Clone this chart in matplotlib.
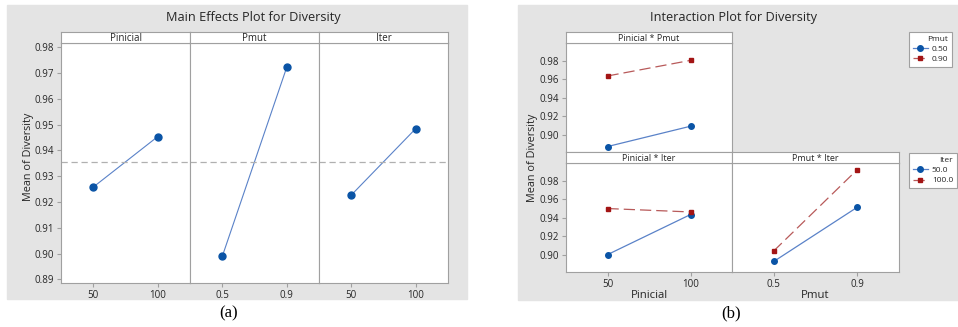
import matplotlib
matplotlib.use("Agg")
import matplotlib.pyplot as plt
from matplotlib.patches import Rectangle

plt.rcParams['font.family'] = ['Open Sans', 'DejaVu Sans']

# data
pinicial_levels = ["50", "100"]
pmut_levels = ["0.5", "0.9"]
iter_levels = ["50", "100"]

main_pinicial = [0.9258, 0.9454]
main_pmut = [0.8989, 0.9723]
main_iter = [0.9227, 0.9485]
grand_mean = 0.9357

pin_pmut_050 = [0.8874, 0.9094]
pin_pmut_090 = [0.9638, 0.9807]
pin_iter_50 = [0.9003, 0.9437]
pin_iter_100 = [0.9502, 0.9465]
pmut_iter_50 = [0.8929, 0.9516]
pmut_iter_100 = [0.9043, 0.9923]

W, H = 958, 327
BG = '#e4e4e4'
EDGE = '#a0a0a0'
TXT = '#262626'
BLUE = '#0a54a6'
BLUE_L = '#5a82c8'
RED = '#a31414'
RED_L = '#b85a5a'

fig = plt.figure(figsize=(W / 100, H / 100), dpi=100)


def box(x0, y0, x1, y1):
    # pixel box -> figure rect
    return [x0 / W, 1 - y1 / H, (x1 - x0) / W, (y1 - y0) / H]


def style_ax(ax):
    for s in ax.spines.values():
        s.set_color(EDGE)
        s.set_linewidth(0.8)
    ax.tick_params(colors=EDGE, labelcolor=TXT, labelsize=7, length=3, width=0.8, pad=2)


def strip(x0, y0, x1, y1, text, size):
    sa = fig.add_axes(box(x0, y0, x1, y1))
    sa.set_xticks([])
    sa.set_yticks([])
    style_ax(sa)
    sa.text(0.5, 0.45, text, ha='center', va='center', fontsize=size, color=TXT,
            transform=sa.transAxes)


# gray backgrounds
fig.patches.append(Rectangle((7 / W, 1 - 299 / H), 460 / W, 294 / H,
                             transform=fig.transFigure, color=BG, zorder=-5))
fig.patches.append(Rectangle((518 / W, 1 - 300 / H), 440 / W, 295 / H,
                             transform=fig.transFigure, color=BG, zorder=-5))

# ---- (a) main effects ----
fig.text(253 / W, 1 - 17 / H, 'Main Effects Plot for Diversity', ha='center', va='center',
         fontsize=9.2, color=TXT)
main_sets = [("Pinicial", pinicial_levels, main_pinicial),
             ("Pmut", pmut_levels, main_pmut),
             ("Iter", iter_levels, main_iter)]
xs = [61, 190, 319, 448]
for i, (name, lev, vals) in enumerate(main_sets):
    ax = fig.add_axes(box(xs[i], 43, xs[i + 1], 283))
    ax.plot(range(len(lev)), vals, color=BLUE_L, lw=0.8, marker='o', ms=5,
            mfc=BLUE, mec=BLUE)
    ax.axhline(grand_mean, color='#b0b0b0', lw=0.9, ls=(0, (5, 3)))
    ax.set_xlim(-0.5, 1.5)
    ax.set_ylim(0.8886, 0.9817)
    ax.set_xticks(range(len(lev)))
    ax.set_xticklabels(lev)
    style_ax(ax)
    if i == 0:
        ax.set_yticks([0.89, 0.90, 0.91, 0.92, 0.93, 0.94, 0.95, 0.96, 0.97, 0.98])
        ax.set_yticklabels(['%.2f' % v for v in ax.get_yticks()])
    else:
        ax.tick_params(axis='y', left=False, labelleft=False)
    strip(xs[i], 32, xs[i + 1], 43, name, 7)
fig.text(29 / W, 1 - 157 / H, 'Mean of Diversity', rotation=90, ha='center', va='center',
         fontsize=7.8, color=TXT)
fig.text(229 / W, 1 - 313 / H, '(a)', ha='center', va='center', fontsize=12,
         family='Liberation Serif', color='black')

# ---- (b) interaction ----
fig.text(733 / W, 1 - 18 / H, 'Interaction Plot for Diversity', ha='center', va='center',
         fontsize=9.2, color=TXT)
yl = (0.8815, 0.9995)
yt = [0.90, 0.92, 0.94, 0.96, 0.98]
panels = [
    (566, 43, 732, 152, 'Pinicial * Pmut', pinicial_levels, pin_pmut_050, pin_pmut_090, True, False),
    (566, 163, 732, 272, 'Pinicial * Iter', pinicial_levels, pin_iter_50, pin_iter_100, True, True),
    (732, 163, 899, 272, 'Pmut * Iter', pmut_levels, pmut_iter_50, pmut_iter_100, False, True),
]
lines = {}
for x0, y0, x1, y1, name, lev, lo, hi, left, bottom in panels:
    ax = fig.add_axes(box(x0, y0, x1, y1))
    l1, = ax.plot(range(len(lev)), lo, color=BLUE_L, lw=0.9, marker='o', ms=4,
                  mfc=BLUE, mec=BLUE)
    l2, = ax.plot(range(len(lev)), hi, color=RED_L, lw=0.9, ls=(0, (9, 4)), marker='s',
                  ms=3.5, mfc=RED, mec=RED)
    lines[name] = (l1, l2)
    ax.set_xlim(-0.5, 1.5)
    ax.set_ylim(*yl)
    ax.set_xticks(range(len(lev)))
    ax.set_xticklabels(lev)
    ax.set_yticks(yt)
    ax.set_yticklabels(['%.2f' % v for v in yt])
    style_ax(ax)
    if not left:
        ax.tick_params(axis='y', left=False, labelleft=False)
    if not bottom:
        ax.tick_params(axis='x', bottom=False, labelbottom=False)
    strip(x0, y0 - 11, x1, y0, name, 6.5)

fig.text(649 / W, 1 - 296 / H, 'Pinicial', ha='center', va='center', fontsize=8.2, color=TXT)
fig.text(815 / W, 1 - 296 / H, 'Pmut', ha='center', va='center', fontsize=8.2, color=TXT)
fig.text(533 / W, 1 - 158 / H, 'Mean of Diversity', rotation=90, ha='center', va='center',
         fontsize=7.8, color=TXT)
fig.text(731 / W, 1 - 313 / H, '(b)', ha='center', va='center', fontsize=12,
         family='Liberation Serif', color='black')

for key, title, labs, ytop in [('Pinicial * Pmut', 'Pmut', ['0.50', '0.90'], 32),
                                ('Pmut * Iter', 'Iter', ['50.0', '100.0'], 153)]:
    leg = fig.legend(lines[key], labs, title=title, loc='upper left',
                     bbox_to_anchor=(909 / W, 1 - ytop / H), fontsize=6,
                     title_fontsize=6, frameon=True, fancybox=False, framealpha=1,
                     edgecolor=EDGE, facecolor='white', borderpad=0.45,
                     borderaxespad=0, handlelength=1.8, handletextpad=0.5,
                     markerfirst=True, alignment='right', labelspacing=0.3)
    leg.get_frame().set_linewidth(0.8)
    for t in leg.get_texts():
        t.set_color(TXT)
    leg.get_title().set_color(TXT)

fig.savefig('out.png', dpi=100)
